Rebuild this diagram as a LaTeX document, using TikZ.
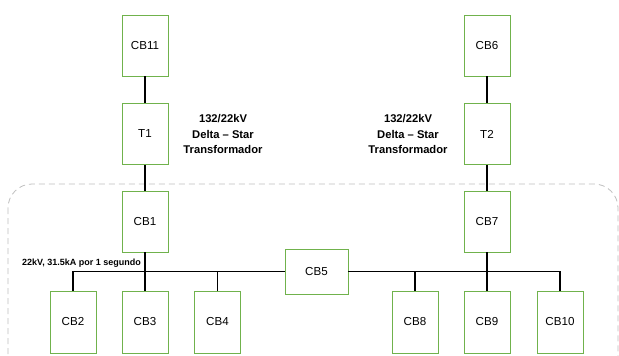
\documentclass[tikz,border=0pt]{standalone}
\usepackage{fontspec}
\setmainfont{Liberation Sans}
\usetikzlibrary{positioning,calc}

\definecolor{cbgreen}{RGB}{112,178,76}
\definecolor{zonegray}{RGB}{190,190,190}

\begin{document}
\begin{tikzpicture}[
    x=1pt, y=-1pt,
    wire/.style={line width=1.3pt, draw=black},
    cbbox/.style={draw=cbgreen, fill=white, line width=0.9pt, minimum width=46pt, minimum height=61pt, inner sep=0pt, font=\fontsize{11.6}{13}\selectfont},
    busbox/.style={cbbox, minimum width=63pt, minimum height=45pt},
    trnote/.style={font=\bfseries\fontsize{11.2}{15.5}\selectfont, align=center},
    zone/.style={draw=zonegray, dashed, dash pattern=on 6pt off 4pt, line width=0.8pt, rounded corners=24pt}
]
    \useasboundingbox (0,0) rectangle (619,356);

    % Substation zone
    \draw[zone] (8,184) rectangle (618,380);

    % Incoming side
    \node[cbbox] (cb11) at (145,45.5) {CB11};
    \node[cbbox] (t1) at (145,134) {T1};
    \node[cbbox] (cb6) at (487,45.5) {CB6};
    \node[cbbox] (t2) at (487,134) {T2};
    \node[trnote] (t1note) at (223,134) {132/22kV\\Delta – Star\\Transformador};
    \node[trnote] (t2note) at (408,134) {132/22kV\\Delta – Star\\Transformador};

    % 22kV breakers
    \node[cbbox] (cb1) at (145,221.5) {CB1};
    \node[cbbox] (cb7) at (487,221.5) {CB7};
    \node[busbox] (cb5) at (316.5,271.5) {CB5};
    \foreach \n/\x in {cb2/73, cb3/145, cb4/217.5, cb8/415, cb9/487, cb10/560} {
        \node[cbbox, minimum height=62pt] (\n) at (\x,322) {\MakeUppercase{\n}};
    }

    \node[font=\bfseries\fontsize{9}{10}\selectfont, anchor=south east, inner sep=0pt] (busnote) at (141,267.5) {22kV, 31.5kA por 1 segundo};

    % Connections
    \draw[wire] (cb11) -- (t1);
    \draw[wire] (t1) -- (cb1);
    \draw[wire] (cb6) -- (t2);
    \draw[wire] (t2) -- (cb7);
    \draw[wire] (cb2.north) |- (cb5.west);
    \draw[wire] (cb5.east) -| (cb10.north);
    \draw[wire] (cb1) -- (cb3);
    \draw[wire] (cb7) -- (cb9);
    \draw[wire] (cb4.north) -- (cb4.north |- cb5.west);
    \draw[wire] (cb8.north) -- (cb8.north |- cb5.east);

\end{tikzpicture}
\end{document}
